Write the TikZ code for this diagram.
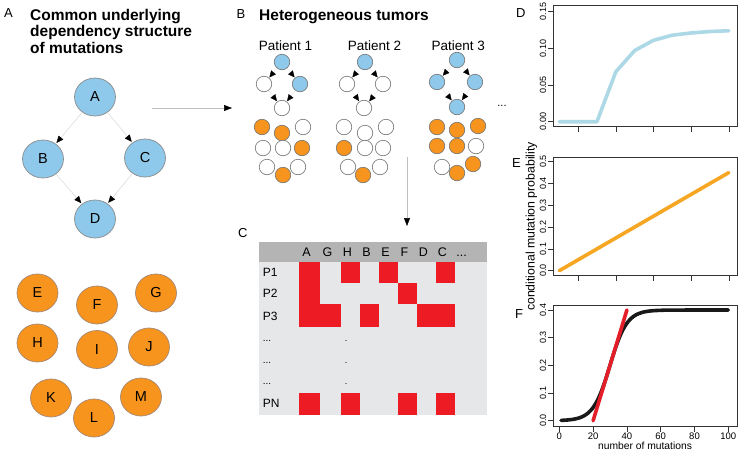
\documentclass[tikz,border=0pt]{standalone}
\usepackage{fontspec}
\setmainfont{Liberation Sans}
\usetikzlibrary{arrows.meta,shapes.geometric}
\definecolor{nodeblue}{RGB}{142,200,234}
\definecolor{nodeorange}{RGB}{247,148,29}
\definecolor{nodeborder}{RGB}{140,140,140}
\definecolor{orborder}{RGB}{165,135,115}
\definecolor{cellred}{RGB}{237,28,36}
\definecolor{hdrgray}{RGB}{180,180,180}
\definecolor{bodygray}{RGB}{230,231,232}
\definecolor{plotblue}{RGB}{173,216,230}
\definecolor{plotorange}{RGB}{245,166,35}
\definecolor{plotred}{RGB}{228,30,40}
\tikzset{
  big/.style={ellipse, minimum width=41pt, minimum height=38pt, inner sep=0pt, line width=0.7pt, font=\fontsize{14.5}{14.5}\selectfont},
  bigblue/.style={big, fill=nodeblue, draw=nodeborder},
  bigor/.style={big, fill=nodeorange, draw=orborder},
  sm/.style={circle, minimum size=15.5pt, inner sep=0pt, draw=black!55, line width=0.6pt},
  smw/.style={sm, fill=white},
  smb/.style={sm, fill=nodeblue},
  smo/.style={sm, fill=nodeorange},
  dep/.style={draw=black!18, line width=0.4pt, -{Triangle[length=7pt,width=6pt,fill=black,color=black]}, shorten >=1pt},
  sdep/.style={draw=black!12, line width=0.3pt, -{Triangle[length=6.5pt,width=6pt,fill=black,color=black]}, shorten >=0.5pt},
  flow/.style={draw=black!25, line width=0.5pt, -{Triangle[length=8pt,width=6pt,fill=black,color=black]}},
  panel/.style={font=\fontsize{13}{13}\selectfont, anchor=base west, inner sep=0pt},
  title/.style={font=\bfseries\fontsize{15.5}{15.5}\selectfont, anchor=base west, inner sep=0pt},
  pat/.style={font=\fontsize{13.5}{13.5}\selectfont, anchor=base, inner sep=0pt},
  hdr/.style={font=\fontsize{12.5}{12.5}\selectfont, anchor=base, inner sep=0pt},
  rowlab/.style={font=\fontsize{12}{12}\selectfont, anchor=base west, inner sep=0pt},
  cell/.style={fill=cellred},
  tick/.style={line width=0.5pt, draw=black!80},
  ticklab/.style={font=\fontsize{9}{9}\selectfont, inner sep=0pt},
  axbox/.style={line width=0.5pt, draw=black!80},
  curve/.style={line width=3.6pt, line cap=round, line join=round}
}
\begin{document}
\begin{tikzpicture}[x=1pt,y=-1pt]
\useasboundingbox (0,0) rectangle (740,453);
\fill[white] (0,0) rectangle (740,453);

% ---------------- Panel A ----------------
\node[panel] (labA) at (4,17.5) {A};
\node[title] (tA1) at (30,20) {Common underlying};
\node[title] (tA2) at (30,36.7) {dependency structure};
\node[title] (tA3) at (30,53.4) {of mutations};

\node[bigblue] (A) at (95,97) {A};
\node[bigblue] (B) at (43,159) {B};
\node[bigblue] (C) at (145,158) {C};
\node[bigblue] (D) at (95,219) {D};
\draw[dep] (A) -- (B);
\draw[dep] (A) -- (C);
\draw[dep] (B) -- (D);
\draw[dep] (C) -- (D);

\node[bigor] (E) at (37.5,293) {E};
\node[bigor] (F) at (97,305) {F};
\node[bigor] (G) at (156,293) {G};
\node[bigor] (H) at (37.5,343) {H};
\node[bigor] (I) at (97,349.5) {I};
\node[bigor] (J) at (149,347) {J};
\node[bigor] (K) at (51,398) {K};
\node[bigor] (L) at (94,418) {L};
\node[bigor] (M) at (141,397) {M};

\coordinate (flowS) at (152,108);
\coordinate (flowT) at (232,108);
\draw[flow] (flowS) -- (flowT);

% ---------------- Panel B ----------------
\node[panel] (labB) at (236.5,18.3) {B};
\node[title] (tB) at (259,20) {Heterogeneous tumors};
\node[pat] (pl1) at (285.5,50) {Patient 1};
\node[pat] (pl2) at (374.5,50) {Patient 2};
\node[pat] (pl3) at (458.3,50) {Patient 3};

\begin{scope}[shift={(282,62)}]
\foreach \n/\x/\y/\s in {T/0/0/smb, L/-18/22/smw, R/18/22/smb, X/0/46/smw,
  E/-20/65/smo, F/0/71/smo, G/21/65/smw, H/-19/86/smw, I/1/86/smw, J/20/86/smo,
  K/-15/105/smw, M/1/113/smo, N/16/105/smw}
  \node[\s] (pa\n) at (\x,\y) {};
\end{scope}
\begin{scope}[shift={(365,62)}]
\foreach \n/\x/\y/\s in {T/0/0/smb, L/-18/22/smw, R/18/22/smw, X/-1/46/smw,
  E/-21/65/smw, F/0/71/smw, G/21/65/smw, H/-21/86/smo, I/0/86/smw, J/18/86/smw,
  K/-17/105/smw, M/-2/113/smo, N/15/105/smw}
  \node[\s] (pb\n) at (\x,\y) {};
\end{scope}
\begin{scope}[shift={(457,60)}]
\foreach \n/\x/\y/\s in {T/0/0/smb, L/-20/22/smb, R/18/22/smb, X/0/47/smb,
  E/-20/67/smo, F/0/70/smo, G/21/66/smo, H/-20/86/smo, I/0/86/smo, J/19/86/smw,
  K/-15/107/smw, M/0/113/smo, N/16/104/smo}
  \node[\s] (pc\n) at (\x,\y) {};
\end{scope}
\foreach \p in {pa,pb,pc}{
  \draw[sdep] (\p T) -- (\p L);
  \draw[sdep] (\p T) -- (\p R);
  \draw[sdep] (\p L) -- (\p X);
  \draw[sdep] (\p R) -- (\p X);
}
\node[font=\fontsize{11}{11}\selectfont, inner sep=0pt] (moreP) at (502,106) {...};

\coordinate (downS) at (407,157);
\coordinate (downT) at (407,226);
\draw[flow] (downS) -- (downT);

% ---------------- Panel C ----------------
\node[panel] (labC) at (238,237) {C};
\fill[hdrgray] (259,242) rectangle (487,262);
\fill[bodygray] (259,262) rectangle (487,415);
\foreach \n/\x in {A/306.5, G/327.5, H/347.5, B/366.5, E/385.5, F/404.5, D/423.5, C/442.5}
  \node[hdr] (h\n) at (\x,256.7) {\n};
\node[hdr] (hdots) at (461.7,256.7) {...};
% P1
\fill[cell] (299,262) rectangle (320,283);
\fill[cell] (341,262) rectangle (360,283);
\fill[cell] (379,262) rectangle (398,283);
\fill[cell] (436,262) rectangle (454.5,283);
% P2
\fill[cell] (299,283) rectangle (320,304);
\fill[cell] (398,283) rectangle (417,304);
% P3
\fill[cell] (299,304) rectangle (341,327);
\fill[cell] (360,304) rectangle (379,327);
\fill[cell] (417,304) rectangle (454.5,327);
% PN
\fill[cell] (299,393) rectangle (320,415);
\fill[cell] (341,393) rectangle (360,415);
\fill[cell] (398,393) rectangle (417,415);
\fill[cell] (436,393) rectangle (454.5,415);
\node[rowlab] (r1) at (262.7,276.7) {P1};
\node[rowlab] (r2) at (262.7,297.3) {P2};
\node[rowlab] (r3) at (262.7,320) {P3};
\node[rowlab, font=\fontsize{10}{10}\selectfont] (r4) at (262.7,341.5) {...};
\node[rowlab, font=\fontsize{10}{10}\selectfont] (r5) at (262.7,363.5) {...};
\node[rowlab, font=\fontsize{10}{10}\selectfont] (r6) at (262.7,384.5) {...};
\node[rowlab] (rN) at (262.7,407.7) {PN};
\node[hdr, font=\fontsize{9}{9}\selectfont] (d1) at (346,341.5) {.};
\node[hdr, font=\fontsize{9}{9}\selectfont] (d2) at (346,363.5) {.};
\node[hdr, font=\fontsize{9}{9}\selectfont] (d3) at (346,384.5) {.};

% ---------------- Panel D ----------------
\node[panel] (labD) at (516,17) {D};
\draw[axbox] (553,5) rectangle (737,126);
\foreach \v/\t in {0/0.00, 0.05/0.05, 0.10/0.10, 0.15/0.15}{
  \draw[tick] (553,{121.7-\v*733.3}) -- (548,{121.7-\v*733.3});
  \node[ticklab, rotate=90] at (543,{121.7-\v*733.3}) {\t};
}
\foreach \k in {2,4,6,8,10}
  \draw[tick] ({559.3+(\k-1)*18.83},126) -- ({559.3+(\k-1)*18.83},131.5);
\begin{scope}[shift={(559.3,121.7)}, x=18.83pt, y=733.3pt]
\draw[curve, plotblue] plot coordinates {(0,0) (1,0) (2,0) (3,0.068) (4,0.097) (5,0.111) (6,0.118) (7,0.121) (8,0.123) (9,0.124)};
\end{scope}

% ---------------- Panel E ----------------
\node[panel] (labE) at (512,167) {E};
\draw[axbox] (553,157) rectangle (737,275);
\foreach \v/\t in {0/0.0, 0.1/0.1, 0.2/0.2, 0.3/0.3, 0.4/0.4, 0.5/0.5}{
  \draw[tick] (553,{270.7-\v*218}) -- (548,{270.7-\v*218});
  \node[ticklab, rotate=90] at (543,{270.7-\v*218}) {\t};
}
\foreach \k in {2,4,6,8,10}
  \draw[tick] ({559.3+(\k-1)*18.83},275) -- ({559.3+(\k-1)*18.83},280.5);
\begin{scope}[shift={(559.3,270.7)}, x=18.83pt, y=218pt]
\draw[curve, plotorange] (0,0) -- (9,0.45);
\end{scope}
\node[font=\fontsize{12.3}{12.3}\selectfont, rotate=90, inner sep=0pt] (ylab) at (531.5,226.5) {conditional mutation probability};

% ---------------- Panel F ----------------
\node[panel] (labF) at (515,318) {F};
\draw[axbox] (553,305) rectangle (737,426);
\foreach \v/\t in {0/0.0, 0.1/0.1, 0.2/0.2, 0.3/0.3, 0.4/0.4}{
  \draw[tick] (553,{420.7-\v*276.75}) -- (548,{420.7-\v*276.75});
  \node[ticklab, rotate=90] at (543,{420.7-\v*276.75}) {\t};
}
\foreach \k in {0,20,40,60,80,100}{
  \draw[tick] ({559.3+\k*1.69},426) -- ({559.3+\k*1.69},431.5);
  \node[ticklab, font=\fontsize{9.5}{9.5}\selectfont] at ({559.3+\k*1.69},436.5) {\k};
}
\node[font=\fontsize{10.3}{10.3}\selectfont, inner sep=0pt] (xlab) at (645,446) {number of mutations};
\begin{scope}[shift={(559.3,420.7)}, x=1.69pt, y=276.75pt]
\draw[curve, black!90] plot[domain=1:100, samples=120, smooth] (\x,{0.4/(1+exp(-(\x-30)/5))});
\draw[curve, plotred] (20,0) -- (40,0.4);
\end{scope}
\end{tikzpicture}
\end{document}
